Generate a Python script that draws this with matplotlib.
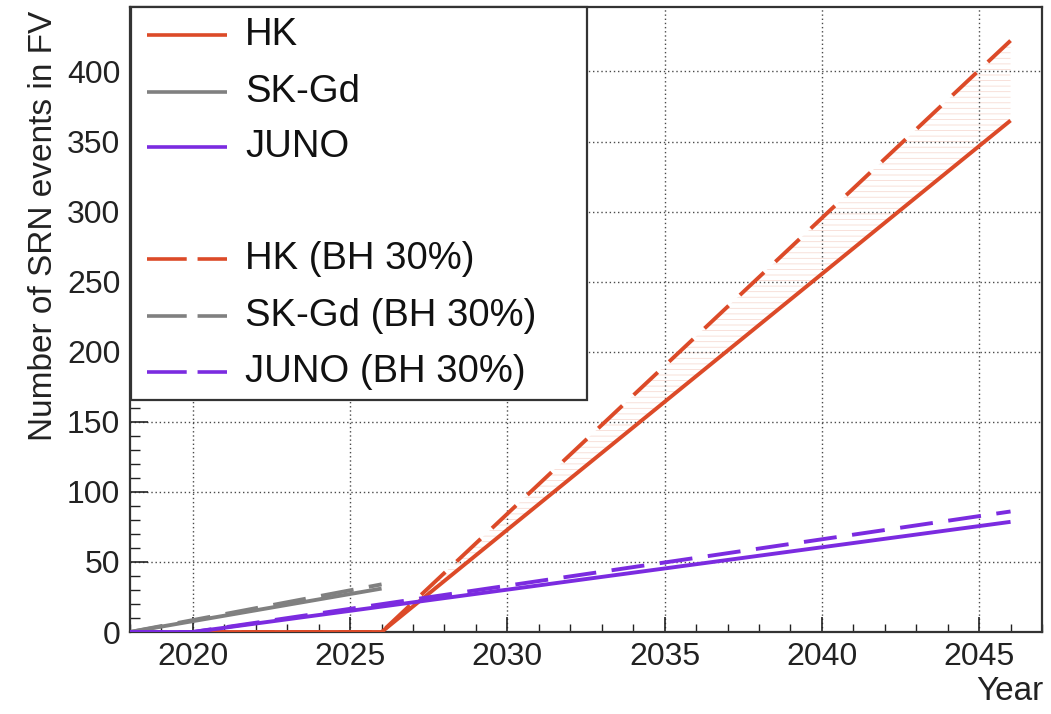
import matplotlib.pyplot as plt
from matplotlib.lines import Line2D
from matplotlib.patches import Rectangle
import numpy as np

plt.rcParams['font.family'] = ['Liberation Sans', 'DejaVu Sans']
plt.rcParams['hatch.linewidth'] = 0.6

# expected event counts vs. year (solid: nominal, dashed: 30% black-hole fraction)
hk_years = [2020, 2026.0, 2046]
hk_events = [0, 0, 365]
hk_bh_events = [0, 0, 422]

skgd_years = [2018, 2026]
skgd_events = [0, 31]
skgd_bh_events = [0, 34]

juno_years = [2018, 2020, 2046]
juno_events = [0, 0, 78.6]
juno_bh_events = [0, 0, 86]

names = ['HK', 'SK-Gd', 'JUNO']
colors = ['#dc4a28', '#808080', '#7b2be0']

W, H = 1051, 714
fig = plt.figure(figsize=(W / 100, H / 100), dpi=100)
ax = fig.add_axes([130 / W, 1 - 632 / H, (1042 - 130) / W, (632 - 7) / H])

lw = 2.8
dash = (8.5, 4)

# faint hatched band between the two HK curves
ax.fill_between(hk_years, hk_events, hk_bh_events, facecolor='none',
                edgecolor='#f7dcd4', hatch='---', lw=0, zorder=1)

series = [
    (hk_years, hk_events, hk_bh_events),
    (skgd_years, skgd_events, skgd_bh_events),
    (juno_years, juno_events, juno_bh_events),
]
for (xs, ys, ybh), c in zip(series, colors):
    ax.plot(xs, ys, color=c, lw=lw, solid_capstyle='butt', zorder=3)
    ax.plot(xs, ybh, color=c, lw=lw, dashes=dash, dash_capstyle='butt', zorder=3)

ax.set_xlim(2018, 2047)
ax.set_ylim(0, 446)
ax.set_xticks([2020, 2025, 2030, 2035, 2040, 2045])
ax.set_xticks(np.arange(2018, 2048, 1), minor=True)
ax.set_yticks(np.arange(0, 401, 50))
ax.set_yticks(np.arange(0, 441, 10), minor=True)
ax.grid(True, which='major', ls=(0, (1, 2)), color='#4a4a4a', lw=1.0, zorder=0)

ax.tick_params(axis='both', which='both', direction='in', labelsize=23, colors='#222222')
ax.tick_params(axis='x', which='major', length=11, width=1.2, pad=7)
ax.tick_params(axis='x', which='minor', length=6, width=1.0)
ax.tick_params(axis='y', which='major', length=13, width=1.2, pad=7)
ax.tick_params(axis='y', which='minor', length=7, width=1.0)
for s in ax.spines.values():
    s.set_linewidth(1.6)
    s.set_color('#333333')

fig.text(1043 / W, 1 - 692 / H, 'Year', ha='right', va='center', fontsize=24, color='#222222')
fig.text(44 / W, 1 - 226 / H, 'Number of SRN events in FV', rotation=90,
         ha='center', va='center', fontsize=24, color='#222222')

# legend box drawn in pixel positions over the top-left corner
def fx(px):
    return px / W

def fy(py):
    return 1 - py / H

fig.add_artist(Rectangle((fx(131), fy(400)), fx(587) - fx(131), fy(7) - fy(400),
                         transform=fig.transFigure, facecolor='white',
                         edgecolor='#333333', lw=1.6, zorder=10))
rows_solid = [35, 92, 147]
rows_dash = [259, 316, 372]
for name, c, ys, yd in zip(names, colors, rows_solid, rows_dash):
    fig.add_artist(Line2D([fx(147), fx(227)], [fy(ys), fy(ys)], transform=fig.transFigure,
                          color=c, lw=2.6, solid_capstyle='butt', zorder=11))
    fig.text(fx(245), fy(ys), name, ha='left', va='center', fontsize=27.5,
             color='#111111', zorder=11)
    fig.add_artist(Line2D([fx(147), fx(227)], [fy(yd), fy(yd)], transform=fig.transFigure,
                          color=c, lw=2.6, dashes=(11, 3), dash_capstyle='butt', zorder=11))
    fig.text(fx(245), fy(yd), name + ' (BH 30%)', ha='left', va='center', fontsize=27.5,
             color='#111111', zorder=11)

fig.savefig('out.png', dpi=100)
